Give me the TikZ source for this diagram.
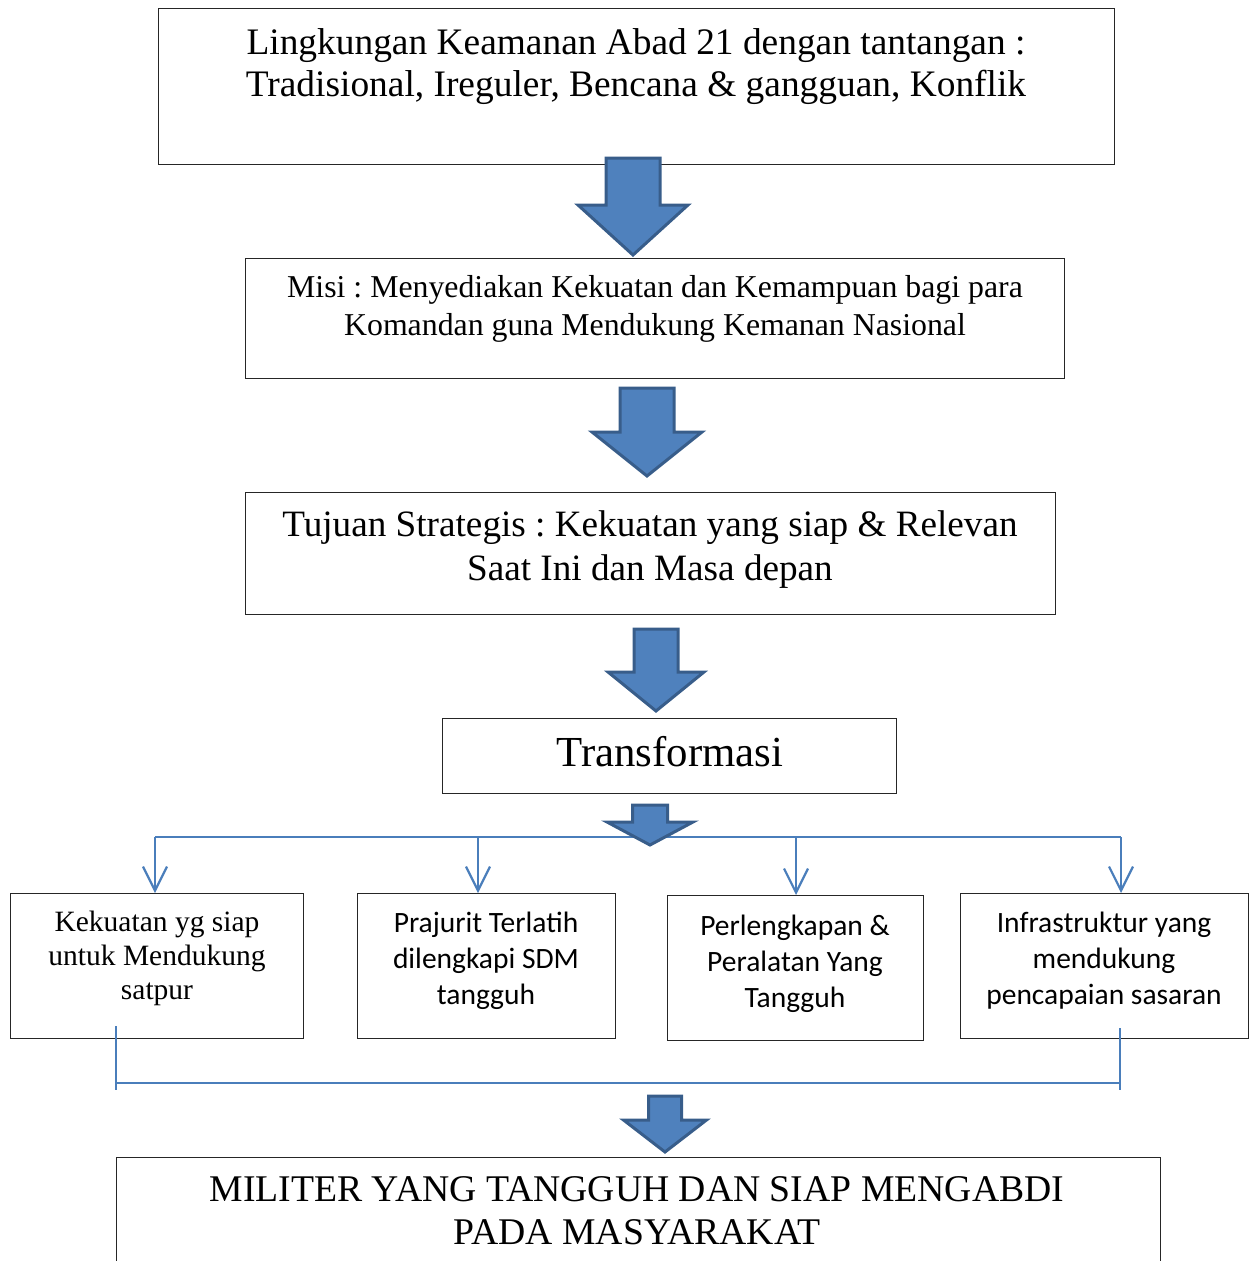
\documentclass[tikz,border=0pt]{standalone}
\usepackage{fontspec}
\setmainfont{Liberation Serif}
\newfontfamily\calib{Carlito}
\usetikzlibrary{arrows.meta,calc}
\frenchspacing
\definecolor{arrfill}{HTML}{4F81BD}
\definecolor{arrline}{HTML}{385D8A}
\definecolor{connblue}{HTML}{4A7EBB}
\newcommand{\BlkArrow}[6]{\draw[barrow] ({#1-#2},#4) -- ({#1+#2},#4) -- ({#1+#2},#5) -- ({#1+#3},#5) -- (#1,#6) -- ({#1-#3},#5) -- ({#1-#2},#5) -- cycle;}
\begin{document}
\begin{tikzpicture}[x=1pt,y=-1pt,
  box/.style={draw=black!85, line width=1.3pt, inner sep=0pt, anchor=north west, fill=white},
  txt/.style={inner sep=0pt, anchor=north, align=center},
  barrow/.style={fill=arrfill, draw=arrline, line width=3pt, line join=miter},
  conn/.style={draw=connblue, line width=2.2pt},
  connarr/.style={conn, -{Straight Barb[length=24pt,width=24pt,line width=2.2pt]}}]
\useasboundingbox (0,0) rectangle (1250,1261);
\clip (0,0) rectangle (1250,1261);
% boxes
\node[box, minimum width=956pt, minimum height=156pt] (b1) at (158,8) {};
\node[box, minimum width=819pt, minimum height=120pt] (b2) at (245,258) {};
\node[box, minimum width=810pt, minimum height=122pt] (b3) at (245,492) {};
\node[box, minimum width=454pt, minimum height=75pt] (b4) at (442,718) {};
\node[box, minimum width=293pt, minimum height=145pt] (ba) at (10,893) {};
\node[box, minimum width=258pt, minimum height=145pt] (bb) at (357,893) {};
\node[box, minimum width=256pt, minimum height=145pt] (bc) at (667,895) {};
\node[box, minimum width=288pt, minimum height=145pt] (bd) at (960,893) {};
\node[box, minimum width=1044pt, minimum height=140pt] (b5) at (116,1157) {};
% texts
\node[txt, font=\fontsize{37.4}{42}\selectfont] (t1) at (636,28) {Lingkungan Keamanan Abad 21 dengan tantangan :\\Tradisional, Ireguler, Bencana \& gangguan, Konflik};
\node[txt, font=\fontsize{31.8}{38}\selectfont] (t2) at (655,275) {Misi : Menyediakan Kekuatan dan Kemampuan bagi para\\Komandan guna Mendukung Kemanan Nasional};
\node[txt, font=\fontsize{37.2}{44}\selectfont] (t3) at (650,510) {Tujuan Strategis : Kekuatan yang siap \& Relevan\\Saat Ini dan Masa depan};
\node[txt, font=\fontsize{42.8}{48}\selectfont] (t4) at (670,736) {Transformasi};
\node[txt, font=\fontsize{29.5}{34}\selectfont] (ta) at (157,911) {Kekuatan yg siap\\untuk Mendukung\\satpur};
\node[txt, font=\calib\fontsize{29.5}{36}\selectfont] (tb) at (486,912) {Prajurit Terlatih\\dilengkapi SDM\\tangguh};
\node[txt, font=\calib\fontsize{29.5}{36}\selectfont] (tc) at (795,915) {Perlengkapan \&\\Peralatan Yang\\Tangguh};
\node[txt, font=\calib\fontsize{29.5}{36}\selectfont] (td) at (1104,912) {Infrastruktur yang\\mendukung\\pencapaian sasaran};
\node[txt, font=\fontsize{37.7}{43}\selectfont] (t5) at (637,1176) {MILITER YANG TANGGUH DAN SIAP MENGABDI\\PADA MASYARAKAT};
% distribution connectors
\coordinate (h1) at (155,837);
\coordinate (h2) at (478,837);
\coordinate (h3) at (796,837);
\coordinate (h4) at (1121,837);
\draw[conn] (h1) -- (h4);
\draw[connarr] (h1) -- (h1 |- ba.north);
\draw[connarr] (h2) -- (h2 |- bb.north);
\draw[connarr] (h3) -- (h3 |- bc.north);
\draw[connarr] (h4) -- (h4 |- bd.north);
% gathering bracket
\coordinate (g1) at (116,1026);
\coordinate (g2) at (1120,1028);
\coordinate (g1b) at (116,1090);
\coordinate (g2b) at (1120,1090);
\draw[conn] (g1) -- (g1b);
\draw[conn] (g2) -- (g2b);
\draw[conn] (116,1083) -- (1120,1083);
% block arrows
\BlkArrow{633}{27}{55}{158}{205}{255}
\BlkArrow{647}{27}{55}{388}{432}{476}
\BlkArrow{656}{22}{48}{629}{672}{711}
\BlkArrow{650}{17.5}{43}{805}{822}{845}
\BlkArrow{665}{16.5}{41.5}{1096}{1120}{1152}
\end{tikzpicture}
\end{document}
